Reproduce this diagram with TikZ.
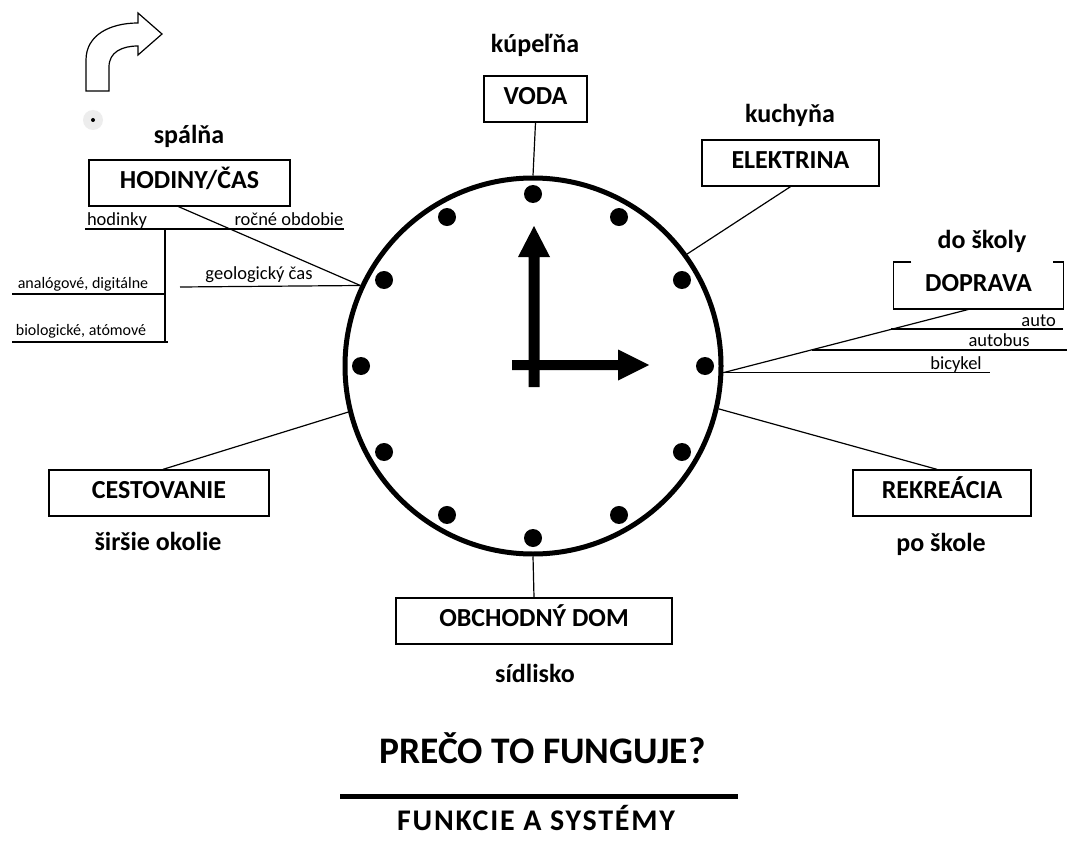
\documentclass[tikz,border=0pt]{standalone}
\usepackage{fontspec}
\setmainfont{Carlito}
\begin{document}
\begin{tikzpicture}[x=1pt,y=-1pt,
  box/.style={draw, line width=1.3pt, inner sep=0pt, text height=18pt, text depth=7pt, minimum height=46pt, font=\bfseries\fontsize{26}{30}\selectfont},
  lbl/.style={anchor=base, inner sep=0pt, font=\bfseries\fontsize{26}{30}\selectfont},
  sm/.style={anchor=base, inner sep=0pt, font=\fontsize{18.5}{22}\selectfont},
  smm/.style={anchor=base, inner sep=0pt, font=\fontsize{16}{19}\selectfont},
  conn/.style={line width=1.2pt},
  ]
\fill[white] (0,0) rectangle (1067,845);
\useasboundingbox (0,0) rectangle (1067,845);

% clock
\node[circle, draw, line width=5pt, minimum size=376pt, inner sep=0pt] (clock) at (533,366) {};
\foreach \a in {0,30,...,330} \fill (clock.center) ++(\a:172pt) circle (9pt);
\fill (528.5,387) -- (528.5,257) -- (518,257) -- (534,226) -- (550,257) -- (539.5,257) -- (539.5,387) -- cycle;
\fill (512,360) -- (618,360) -- (618,349.5) -- (649,365) -- (618,380.5) -- (618,370) -- (512,370) -- cycle;

% boxes
\node[box, minimum width=103pt] (voda) at (535.5,99) {VODA};
\node[box, minimum width=177pt] (elek) at (790.5,163) {ELEKTRINA};
\node[box, minimum width=169pt, minimum height=45.5pt, draw=none] (dop) at (978.5,285.5) {DOPRAVA};
\draw[line width=1.3pt] ([xshift=18pt]dop.north west) -- (dop.north west) -- (dop.south west) -- (dop.south east) -- (dop.north east) -- ([xshift=-11pt]dop.north east);
\node[box, minimum width=201pt] (hod) at (189.5,183) {HODINY/ČAS};
\node[box, minimum width=220pt] (cest) at (159,493) {CESTOVANIE};
\node[box, minimum width=178pt] (rek) at (942,493) {REKREÁCIA};
\node[box, minimum width=276pt] (obch) at (534,621) {OBCHODNÝ DOM};

% place labels
\node[lbl] (lvoda) at (535,53) {kúpeľňa};
\node[lbl] (lelek) at (790,123) {kuchyňa};
\node[lbl] (ldop) at (982,248) {do školy};
\node[lbl] (lhod) at (189,144) {spálňa};
\node[lbl] (lcest) at (158,550) {širšie okolie};
\node[lbl] (lrek) at (941,551) {po škole};
\node[lbl] (lobch) at (535,682) {sídlisko};

% connectors
\draw[conn] (voda.south) -- (clock.north);
\draw[conn] (elek.south) -- (clock.36);
\draw[conn] ([xshift=-8pt]dop.south) -- (clock.-2.3);
\draw[conn] ([xshift=-11pt]hod.south) -- (clock.155.6);
\draw[conn] ([xshift=4pt]cest.north) -- (clock.194);
\draw[conn] ([xshift=-5pt]rek.north) -- (clock.-13);
\draw[conn] (obch.north) -- (clock.south);

% time sub-branches
\coordinate (hA) at (85,229); \coordinate (hB) at (344,229);
\draw[conn] (hA) -- (hB);
\node[sm] (hodinky) at (117,225) {hodinky};
\node[sm] (rocne) at (289,225) {ročné obdobie};
\coordinate (vT) at (165,229); \coordinate (vB) at (165,342);
\draw[conn] (vT) -- (vB);
\coordinate (aL) at (12,294); \coordinate (aR) at (165,294);
\draw[conn] (aL) -- (aR);
\node[smm] (analog) at (83,288) {analógové, digitálne};
\coordinate (bL) at (12,342); \coordinate (bR) at (168,342);
\draw[conn] (bL) -- (bR);
\node[smm] (bio) at (81,335) {biologické, atómové};
\coordinate (gL) at (180,287);
\draw[conn] (gL) -- (clock.155.6);
\node[sm] (geo) at (259,279) {geologický čas};

% transport sub-branches
\coordinate (bicR) at (990,0);
\draw[conn] (clock.-2.3) -- (clock.-2.3 -| bicR);
\node[sm] (bic) at (956,369) {bicykel};
\coordinate (busL) at (812,350); \coordinate (busR) at (1067,350);
\draw[conn] (busL) -- (busR);
\node[sm] (bus) at (999,346) {autobus};
\coordinate (autL) at (891,329); \coordinate (autR) at (1063,329);
\draw[conn] (autL) -- (autR);
\node[sm, anchor=base east] (auto) at (1056,326) {auto};

% bent arrow and dot
\draw[line width=1.2pt, line join=miter] (86,91) -- (86,60) .. controls (86,35) and (110,23) .. (138,23) -- (138,13) -- (162,34) -- (138,55) -- (138,46) .. controls (122,46) and (109,52) .. (109,67) -- (109,91) -- cycle;
\fill[black!7] (93,120) circle (10pt);
\fill (93,120) circle (2pt);

% title
\node[anchor=base, inner sep=0pt, font=\bfseries\fontsize{37.5}{42}\selectfont] (title) at (542.5,763) {PREČO TO FUNGUJE?};
\coordinate (barL) at (340,796.5); \coordinate (barR) at (738,796.5);
\draw[line width=5pt] (barL) -- (barR);
\node[anchor=base, inner sep=0pt, font=\bfseries\fontsize{30}{34}\selectfont\addfontfeatures{LetterSpace=6}] (sub) at (536,830) {FUNKCIE A SYSTÉMY};
\end{tikzpicture}
\end{document}
